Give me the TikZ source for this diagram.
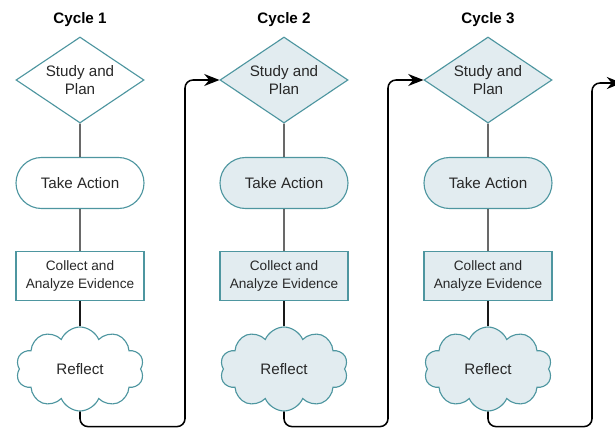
\documentclass[tikz,border=0pt]{standalone}
\usepackage{fontspec}
\setmainfont{Liberation Sans}
\usetikzlibrary{shapes.geometric, shapes.misc, shapes.symbols, arrows.meta}
\definecolor{tealline}{RGB}{78,150,160}
\definecolor{paleblue}{RGB}{226,236,240}
\definecolor{inktext}{RGB}{40,40,40}

\begin{document}
\begin{tikzpicture}[
    box/.style={draw=tealline, line width=0.8pt, text=inktext, align=center, inner sep=0pt,
      font=\fontsize{10.8}{12.6}\selectfont},
    plan/.style={box, diamond, aspect=1.49, minimum width=3.2cm, minimum height=2.15cm},
    act/.style={box, rounded rectangle, minimum width=3.2cm, minimum height=1.275cm},
    evid/.style={box, rectangle, minimum width=3.2cm, minimum height=1.225cm,
      font=\fontsize{9.7}{12.6}\selectfont},
    refl/.style={box, cloud, cloud puffs=10, cloud puff arc=135, cloud ignores aspect,
      minimum width=3.2cm, minimum height=2.1cm},
    shade/.style={fill=paleblue},
    title/.style={font=\fontsize{10.8}{12.6}\selectfont\bfseries},
    link/.style={line width=1pt, draw=black!90},
    loop/.style={line width=1.1pt, rounded corners=0.2cm, -{Stealth[length=3.8mm, width=3mm]}}
  ]
  \useasboundingbox (0,0) rectangle (15.375,10.725);

  %cycle 1
  \node[title] (cyc1) at (2.0,10.225) {Cycle 1};
  \node[plan, fill=white] (plan1) at (2.0,8.725) {Study and\\Plan};
  \node[act, fill=white] (act1) at (2.0,6.15) {Take Action};
  \node[evid, fill=white] (evid1) at (2.0,3.825) {Collect and\\Analyze Evidence};
  \node[refl, fill=white] (refl1) at (2.0,1.5) {Reflect};
  \draw[link] (plan1) -- (act1);
  \draw[link] (act1) -- (evid1);
  \draw[link] (evid1) -- (refl1);

  %cycle 2
  \node[title] (cyc2) at (7.1,10.225) {Cycle 2};
  \node[plan, shade] (plan2) at (7.1,8.725) {Study and\\Plan};
  \node[act, shade] (act2) at (7.1,6.15) {Take Action};
  \node[evid, shade] (evid2) at (7.1,3.825) {Collect and\\Analyze Evidence};
  \node[refl, shade] (refl2) at (7.1,1.5) {Reflect};
  \draw[link] (plan2) -- (act2);
  \draw[link] (act2) -- (evid2);
  \draw[link] (evid2) -- (refl2);

  %cycle 3
  \node[title] (cyc3) at (12.2,10.225) {Cycle 3};
  \node[plan, shade] (plan3) at (12.2,8.725) {Study and\\Plan};
  \node[act, shade] (act3) at (12.2,6.15) {Take Action};
  \node[evid, shade] (evid3) at (12.2,3.825) {Collect and\\Analyze Evidence};
  \node[refl, shade] (refl3) at (12.2,1.5) {Reflect};
  \draw[link] (plan3) -- (act3);
  \draw[link] (act3) -- (evid3);
  \draw[link] (evid3) -- (refl3);

  %loops from one cycle to the next
  \coordinate (turn1) at (4.625,0.06);
  \coordinate (turn2) at (9.7,0.06);
  \coordinate (turn3) at (14.8,0.06);
  \coordinate (next) at (15.55,8.65);
  \draw[loop] (refl1.south) |- (turn1) |- (plan2.west);
  \draw[loop] (refl2.south) |- (turn2) |- (plan3.west);
  \draw[loop] (refl3.south) |- (turn3) |- (next);
\end{tikzpicture}
\end{document}
